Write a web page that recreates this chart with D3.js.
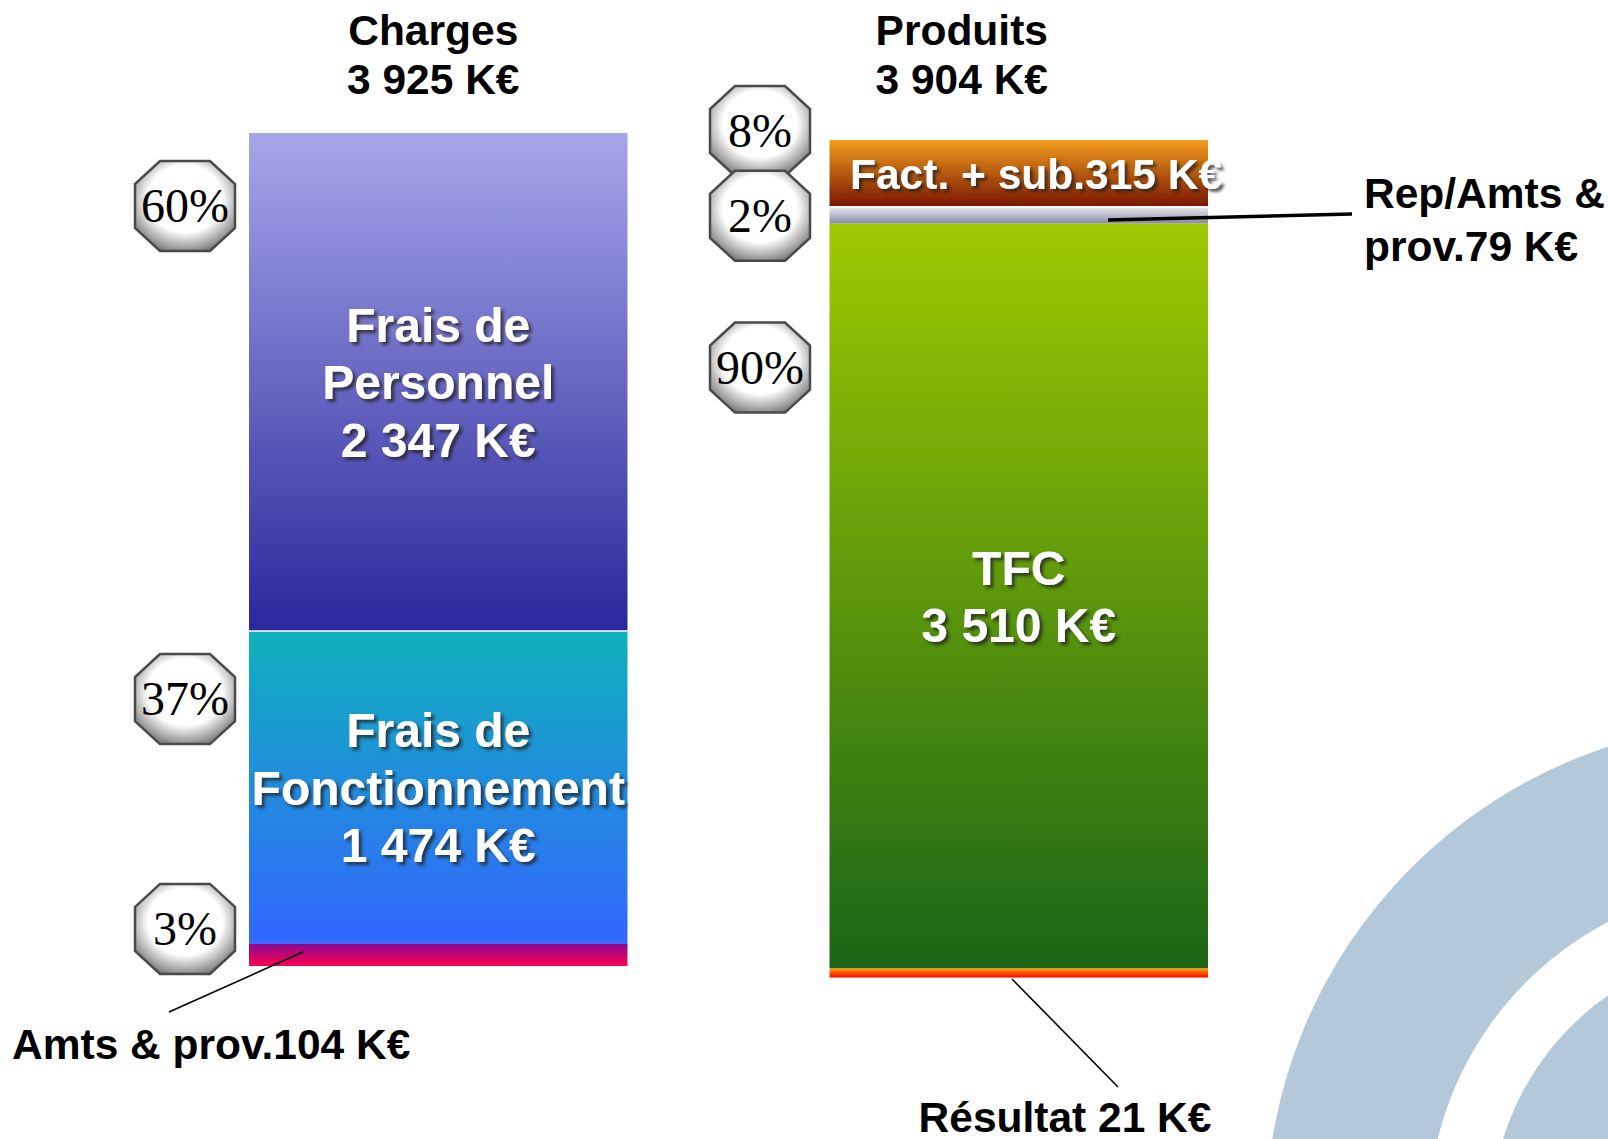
<!DOCTYPE html>
<html>
<head>
<meta charset="utf-8">
<script src="https://cdn.jsdelivr.net/npm/d3@7"></script>
<style>
  body { margin: 0; background: #fff; }
  svg { display: block; }
</style>
</head>
<body>
<div id="chart"></div>
<script>
// Charges / Produits stacked bars

const barTitles = ["Charges", "Produits"];
const barTotals = [3925, 3904];

const chargeNames = [["Frais de", "Personnel"], ["Frais de", "Fonctionnement"], ["Amts & prov."]];
const chargeValues = [2347, 1474, 104];
const chargePcts = [60, 37, 3];

const produitNames = [["Fact. + sub."], ["Rep/Amts &", "prov."], ["TFC"], ["Résultat "]];
const produitValues = [315, 79, 3510, 21];
const produitPcts = [8, 2, 90, null];

// colours, top -> bottom of each segment
const chargeColors = [["#a6a7ea", "#29279a"], ["#0fb1bb", "#3366ff"], ["#8a0a90", "#ff0050"]];
const produitColors = [["#f29d1e", "#781500"], ["#ececee", "#858aa6"], ["#9ec900", "#1a6517"], ["#ffa000", "#ff0000"]];

const width = 1608;
const height = 1139;

const fr = d3.formatLocale({ decimal: ",", thousands: "\u00a0", grouping: [3], currency: ["", " €"] });
const fmt = fr.format(",d");

const svg = d3.select("#chart")
    .append("svg")
    .attr("width", width)
    .attr("height", height);

const defs = svg.append("defs");

// background rings, bottom right
const ringArc = d3.arc().startAngle(0).endAngle(2 * Math.PI);
const rings = svg.append("g").attr("transform", "translate(1763,1219)");
[[335, 497], [150, 272]].forEach(r => {
    rings.append("path")
        .attr("d", ringArc.innerRadius(r[0]).outerRadius(r[1])())
        .attr("fill", "#b3c8d9");
});

// shadow for white labels
const shadow = defs.append("filter").attr("id", "shadow")
    .attr("x", "-10%").attr("y", "-30%").attr("width", "130%").attr("height", "160%");
shadow.append("feDropShadow")
    .attr("dx", 3).attr("dy", 3).attr("stdDeviation", 1.8)
    .attr("flood-color", "#222").attr("flood-opacity", 0.75);

// badge fill
const badgeGrad = defs.append("radialGradient").attr("id", "badge")
    .attr("cx", "50%").attr("cy", "42%").attr("r", "62%");
badgeGrad.append("stop").attr("offset", "0%").attr("stop-color", "#ffffff");
badgeGrad.append("stop").attr("offset", "60%").attr("stop-color", "#ffffff");
badgeGrad.append("stop").attr("offset", "100%").attr("stop-color", "#777");

// scales
const x = d3.scaleBand()
    .domain(barTitles)
    .range([249, 1208])
    .paddingInner(0.348)
    .paddingOuter(0);

const y = d3.scaleLinear()
    .domain([0, 3925])
    .range([0, 833]);

const barTop = { Charges: 133, Produits: 140 };
const minBand = 9; // thin bands are drawn at least this tall

function buildSegments(bar, names, values, pcts, colors) {
    const ends = d3.cumsum(values);
    return values.map((v, i) => {
        const y0 = barTop[bar] + y(ends[i] - v);
        const y1 = Math.max(barTop[bar] + y(ends[i]), y0 + minBand);
        return { bar, i, name: names[i], value: v, pct: pcts[i], colors: colors[i], y0, y1 };
    });
}

const segments = buildSegments("Charges", chargeNames, chargeValues, chargePcts, chargeColors)
    .concat(buildSegments("Produits", produitNames, produitValues, produitPcts, produitColors));

segments.forEach((d, k) => {
    const g = defs.append("linearGradient").attr("id", "grad" + k)
        .attr("x1", 0).attr("y1", 0).attr("x2", 0).attr("y2", 1);
    g.append("stop").attr("offset", "0%").attr("stop-color", d.colors[0]);
    g.append("stop").attr("offset", "100%").attr("stop-color", d.colors[1]);
});

svg.append("g").selectAll("rect")
    .data(segments)
    .join("rect")
    .attr("x", d => x(d.bar))
    .attr("y", d => d.y0)
    .attr("width", x.bandwidth())
    .attr("height", d => d.y1 - d.y0)
    .attr("fill", (d, k) => `url(#grad${k})`);

// thin white separators
svg.append("g").selectAll("line")
    .data(segments.filter(d => d.i === 1))
    .join("line")
    .attr("x1", d => x(d.bar))
    .attr("x2", d => x(d.bar) + x.bandwidth())
    .attr("y1", d => d.y0)
    .attr("y2", d => d.y0)
    .attr("stroke", "#fff")
    .attr("stroke-width", 1.5);

// titles
const titleDx = { Charges: -5, Produits: -57 };
barTitles.forEach((t, i) => {
    const cx = x(t) + x.bandwidth() / 2 + titleDx[t];
    const tt = svg.append("text")
        .attr("x", cx)
        .attr("text-anchor", "middle")
        .style("font-family", "'Liberation Sans', Arial, sans-serif")
        .style("font-weight", "bold")
        .style("font-size", "42.5px")
        .attr("fill", "#000");
    tt.append("tspan").attr("x", cx).attr("y", 45).text(t);
    tt.append("tspan").attr("x", cx).attr("y", 94).text(fmt(barTotals[i]) + " K€");
});

// label layout, per segment in order
const labelLayout = {
    Charges: [
        { place: "inside", valueLine: true },
        { place: "inside", valueLine: true },
        { place: "callout", from: [303, 952], to: [169, 1012], tx: 12, ty: 1044, anchor: "start", lw: 1.6 }
    ],
    Produits: [
        { place: "inline", tx: 850, size: 42.5 },
        { place: "callout", from: [1108, 220], to: [1352, 214], tx: 1364, ty: 193, anchor: "start", lw: 3.5 },
        { place: "inside", valueLine: true },
        { place: "callout", from: [1012, 979], to: [1118, 1087], tx: 1065, ty: 1117, anchor: "middle", lw: 1.6 }
    ]
};

segments.forEach(d => {
    const lay = labelLayout[d.bar][d.i];
    const val = fmt(d.value) + " K€";
    let lines = d.name.slice();
    if (lay.valueLine) lines.push(val);
    else lines[lines.length - 1] = lines[lines.length - 1] + val;

    if (lay.place === "inside") {
        const cx = x(d.bar) + x.bandwidth() / 2;
        const lh = 57.5;
        const cy = (d.y0 + d.y1) / 2 - (lines.length - 1) * lh / 2;
        const t = svg.append("text")
            .attr("text-anchor", "middle")
            .attr("filter", "url(#shadow)")
            .style("font-family", "'Liberation Sans', Arial, sans-serif")
            .style("font-weight", "bold")
            .style("font-size", "48px")
            .attr("fill", "#fff");
        lines.forEach((l, j) => {
            t.append("tspan").attr("x", cx).attr("y", cy + j * lh).attr("dy", "0.36em").text(l);
        });
    } else if (lay.place === "inline") {
        svg.append("text")
            .attr("x", lay.tx)
            .attr("y", (d.y0 + d.y1) / 2)
            .attr("dy", "0.36em")
            .attr("filter", "url(#shadow)")
            .style("font-family", "'Liberation Sans', Arial, sans-serif")
            .style("font-weight", "bold")
            .style("font-size", lay.size + "px")
            .attr("fill", "#fff")
            .text(lines[0]);
    } else {
        svg.append("line")
            .attr("x1", lay.from[0]).attr("y1", lay.from[1])
            .attr("x2", lay.to[0]).attr("y2", lay.to[1])
            .attr("stroke", "#000")
            .attr("stroke-width", lay.lw);
        const t = svg.append("text")
            .attr("text-anchor", lay.anchor)
            .style("font-family", "'Liberation Sans', Arial, sans-serif")
            .style("font-weight", "bold")
            .style("font-size", "42.5px")
            .attr("fill", "#000");
        lines.forEach((l, j) => {
            t.append("tspan").attr("x", lay.tx).attr("y", lay.ty + j * 53).attr("dy", "0.36em").text(l);
        });
    }
});

// percentage badges (offset from segment top)
const badgeDy = { Charges: [73, 68, -15], Produits: [-9, 9, 144] };
const badgeX = { Charges: 185, Produits: 760 };
const octagon = [[-25, -45], [25, -45], [50, -22], [50, 22], [25, 45], [-25, 45], [-50, 22], [-50, -22]];

const badges = svg.append("g").selectAll("g")
    .data(segments.filter(d => d.pct != null))
    .join("g")
    .attr("transform", d => `translate(${badgeX[d.bar]},${d.y0 + badgeDy[d.bar][d.i]})`);

badges.append("polygon")
    .attr("points", octagon.map(p => p.join(",")).join(" "))
    .attr("fill", "url(#badge)")
    .attr("stroke", "#4a4a4a")
    .attr("stroke-width", 2.5);

badges.append("text")
    .attr("text-anchor", "middle")
    .attr("dy", "0.34em")
    .style("font-family", "'Liberation Serif', 'Times New Roman', serif")
    .style("font-size", "48px")
    .attr("fill", "#000")
    .text(d => d.pct + "%");
</script>
</body>
</html>
